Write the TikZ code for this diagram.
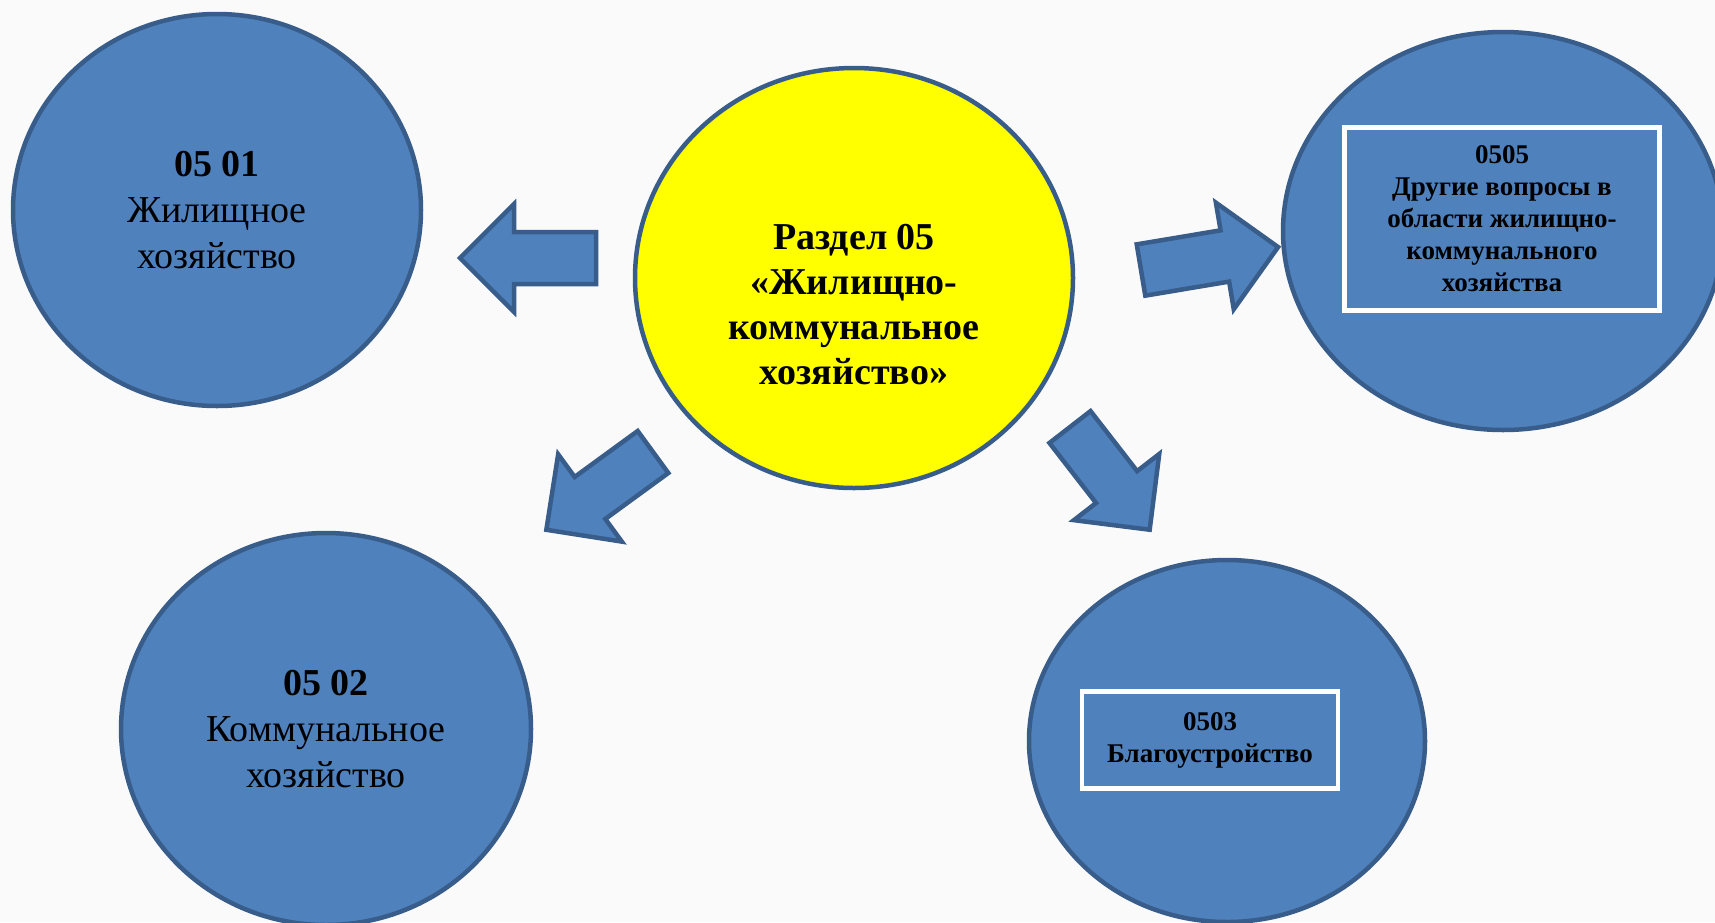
\documentclass[tikz,border=0pt]{standalone}
\usepackage{fontspec}
\setmainfont{Liberation Serif}
\usetikzlibrary{shapes.geometric,calc}
\definecolor{bfill}{HTML}{4F81BD}
\definecolor{bdraw}{HTML}{385D8A}
\definecolor{yfill}{HTML}{FFFF00}
% #1 tail coordinate, #2 canvas angle, #3 length
\newcommand{\blockarrow}[3]{%
  \begin{scope}[shift={(#1)}, rotate=#2]
    \draw[barrow] (0,26) -- (#3-54,26) -- (#3-54,54) -- (#3,0) -- (#3-54,-54) -- (#3-54,-26) -- (0,-26) -- cycle;
  \end{scope}
}
\begin{document}
\begin{tikzpicture}[x=1pt,y=-1pt,
  circ/.style={ellipse, draw=bdraw, line width=4.5pt, fill=bfill, inner sep=0pt, align=center,
    font=\fontsize{38}{46}\selectfont},
  tbox/.style={draw=white, line width=4.5pt, fill=bfill, inner sep=0pt, align=center,
    font=\bfseries\fontsize{27}{32}\selectfont},
  barrow/.style={draw=bdraw, line width=4.5pt, fill=bfill, line join=miter}]
\fill[black!2] (0,0) rectangle (1715,922);
\useasboundingbox (0,0) rectangle (1715,922);

% circles
\node[circ, minimum width=408pt, minimum height=392pt] (c501) at (217,210)
  {\textbf{05 01}\\Жилищное\\хозяйство};
\node[circ, minimum width=410pt, minimum height=392pt] (c502) at (326,729)
  {\textbf{05 02}\\Коммунальное\\хозяйство};
\node[circ, fill=yfill, minimum width=438pt, minimum height=420pt] (c05) at (854,278) {};
\node[align=center, font=\bfseries\fontsize{38}{45}\selectfont] (t05) at (854,305)
  {Раздел 05\\«Жилищно-\\коммунальное\\хозяйство»};
\node[circ, minimum width=440pt, minimum height=398pt] (c505) at (1503,231) {};
\node[circ, minimum width=396pt, minimum height=362pt] (c503) at (1227,741) {};

% text boxes
\node[tbox, minimum width=315pt, minimum height=183pt] (b505) at (1502,219)
  {0505\\Другие вопросы в\\области жилищно-\\коммунального\\хозяйства};
\node[tbox, minimum width=256pt, minimum height=97pt] (b503) at (1210,740)
  {0503\\Благоустройство};

% block arrows
\coordinate (la) at (596,258);
\coordinate (ra) at (1141,270);
\coordinate (dla) at (653,452);
\coordinate (dra) at (1070,427);
\blockarrow{la}{180}{136}
\blockarrow{ra}{9.5}{139}
\blockarrow{dla}{-143.9}{132}
\blockarrow{dra}{-52.2}{130}
\end{tikzpicture}
\end{document}
